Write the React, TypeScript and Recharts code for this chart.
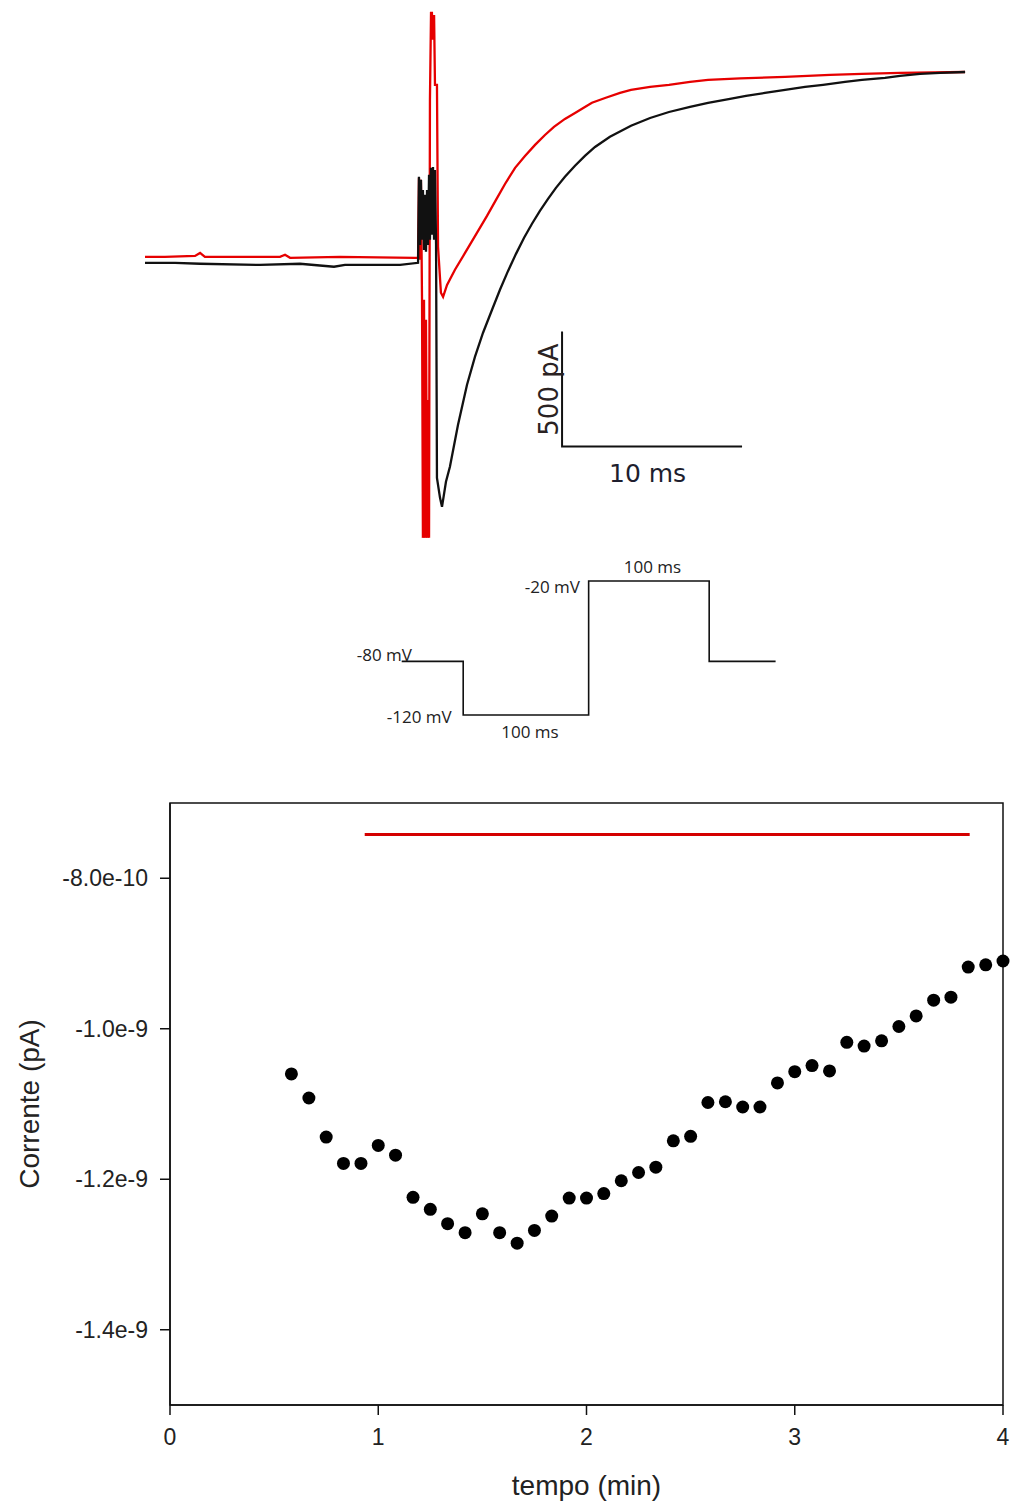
import React from 'react';
import {
  LineChart,
  Line,
  XAxis,
  YAxis,
  ReferenceDot,
  ComposedChart,
  Scatter,
  ReferenceLine,
  ReferenceArea,
} from 'recharts';

const FONT = "'Liberation Sans', Arial, sans-serif";

// current traces, [time (ms), current (pA)]
const controlTrace: [number, number][] = [
  [0, -13], [1.67, -13], [3.06, -17], [6.39, -22], [8.61, -17], [10.5, -30],
  [11.11, -22], [14.17, -22], [15.17, -13], [15.22, 361], [15.28, 65],
  [15.33, 348], [15.39, 87], [15.44, 304], [15.5, 43], [15.56, 283],
  [15.61, 35], [15.67, 304], [15.72, 65], [15.78, 370], [15.83, 87],
  [15.89, 400], [15.94, 109], [16.0, 404], [16.06, 87], [16.11, 391],
  [16.17, 65], [16.22, -948], [16.39, -1035], [16.5, -1074], [16.72, -965],
  [16.94, -900], [17.39, -717], [17.89, -543], [18.33, -422], [18.78, -317],
  [19.28, -217], [19.72, -130], [20.17, -48], [20.61, 26], [21.06, 96],
  [21.5, 157], [21.94, 213], [22.39, 265], [22.83, 313], [23.33, 361],
  [23.89, 409], [24.44, 452], [25.0, 491], [25.83, 535], [27.0, 583],
  [28.06, 617], [29.11, 643], [30.28, 665], [31.28, 683], [32.5, 700],
  [33.39, 713], [34.44, 726], [35.56, 739], [36.67, 752], [37.67, 761],
  [38.89, 774], [39.83, 783], [41.11, 791], [41.94, 800], [43.06, 809],
  [44.17, 813], [45.56, 817],
];

const drugTrace: [number, number][] = [
  [0, 13], [1.11, 13], [2.78, 17], [3.06, 30], [3.33, 13], [7.5, 13],
  [7.78, 22], [8.06, 9], [10.83, 13], [15.0, 9], [15.17, 9], [15.22, 357],
  [15.28, 0], [15.33, 348], [15.39, -174], [15.44, -1209], [15.5, -174],
  [15.56, -1209], [15.61, -261], [15.67, -1209], [15.72, -609], [15.78, -1209],
  [15.83, 696], [15.89, 1074], [15.94, 1074], [16.0, 957], [16.06, 1065],
  [16.11, 761], [16.22, 761], [16.28, 57], [16.44, -143], [16.56, -161],
  [16.78, -109], [17.22, -43], [17.78, 30], [18.44, 117], [19.0, 191],
  [19.5, 261], [20.0, 330], [20.56, 400], [21.11, 452], [21.67, 500],
  [22.22, 543], [22.72, 578], [23.33, 613], [23.89, 639], [24.44, 665],
  [24.83, 683], [25.56, 704], [26.39, 726], [27.0, 739], [28.06, 752],
  [29.11, 761], [30.28, 774], [31.28, 783], [33.06, 789], [35.56, 796],
  [38.06, 804], [39.83, 809], [41.94, 813], [45.56, 817],
];

// scale bar: 500 pA / 10 ms
const scaleBar: [number, number][] = [[23.17, -312], [23.17, -812], [33.17, -812]];

// voltage protocol
const protocolTime = [0, 50, 50, 152, 152, 250, 250, 304];
const protocolVoltage = [-80, -80, -120, -120, -20, -20, -80, -80];

// time course
const timeMin = [
  0.583, 0.667, 0.75, 0.833, 0.917, 1.0, 1.083, 1.167, 1.25, 1.333, 1.417,
  1.5, 1.583, 1.667, 1.75, 1.833, 1.917, 2.0, 2.083, 2.167, 2.25, 2.333,
  2.417, 2.5, 2.583, 2.667, 2.75, 2.833, 2.917, 3.0, 3.083, 3.167, 3.25,
  3.333, 3.417, 3.5, 3.583, 3.667, 3.75, 3.833, 3.917, 4.0,
];
const currentA = [
  -10.6e-10, -10.92e-10, -11.44e-10, -11.79e-10, -11.79e-10, -11.55e-10,
  -11.68e-10, -12.24e-10, -12.4e-10, -12.59e-10, -12.71e-10, -12.46e-10,
  -12.71e-10, -12.85e-10, -12.68e-10, -12.49e-10, -12.25e-10, -12.25e-10,
  -12.19e-10, -12.02e-10, -11.91e-10, -11.84e-10, -11.49e-10, -11.43e-10,
  -10.98e-10, -10.97e-10, -11.04e-10, -11.04e-10, -10.72e-10, -10.57e-10,
  -10.49e-10, -10.56e-10, -10.18e-10, -10.23e-10, -10.16e-10, -9.97e-10,
  -9.83e-10, -9.62e-10, -9.58e-10, -9.18e-10, -9.15e-10, -9.1e-10,
];
const xTicks = [0, 1, 2, 3, 4];
const yTicks = [-8e-10, -1e-9, -1.2e-9, -1.4e-9];
const yTickLabels = ['-8.0e-10', '-1.0e-9', '-1.2e-9', '-1.4e-9'];
const perfusionStart = 0.935;
const perfusionEnd = 3.84;
const perfusionLevel = -7.42e-10;

const toPts = (arr: [number, number][]) => arr.map(([t, v]) => ({ t, v }));
const controlPts = toPts(controlTrace);
const drugPts = toPts(drugTrace);
const barPts = toPts(scaleBar);
const protocolPts = protocolTime.map((t, i) => ({ t, v: protocolVoltage[i] }));
const coursePts = timeMin.map((x, i) => ({ x, y: currentA[i] }));

type NoteOpts = {
  anchor?: 'start' | 'middle' | 'end';
  size?: number;
  rotate?: number;
  family?: string;
  fill?: string;
};

function note(text: string, dx: number, dy: number, o: NoteOpts = {}) {
  return (props: any) => {
    const vb = props.viewBox || {};
    const x = (vb.x || 0) + (vb.width || 0) / 2 + dx;
    const y = (vb.y || 0) + (vb.height || 0) / 2 + dy;
    return (
      <text
        x={x}
        y={y}
        textAnchor={o.anchor || 'middle'}
        fontSize={o.size || 16}
        fontFamily={o.family || FONT}
        fill={o.fill || '#222'}
        transform={o.rotate ? `rotate(${o.rotate} ${x} ${y})` : undefined}
      >
        {text}
      </text>
    );
  };
}

const PROTO_FONT = "'Open Sans', 'Noto Sans', sans-serif";
const BAR_FONT = "'DejaVu Sans', sans-serif";

const dotShape = (p: any) => <circle cx={p.cx} cy={p.cy} r={6.5} fill="#000" />;

export default function App() {
  return (
    <div
      style={{
        position: 'absolute',
        left: 0,
        top: 0,
        width: 1012,
        height: 1504,
        background: '#fff',
        overflow: 'hidden',
      }}
    >
      {/* current traces */}
      <div style={{ position: 'absolute', left: 145, top: 0 }}>
        <LineChart width={828} height={545} margin={{ top: 0, right: 0, bottom: 0, left: 0 }}>
          <XAxis dataKey="t" type="number" domain={[0, 46]} hide />
          <YAxis type="number" domain={[-1240, 1130]} hide />
          <Line data={drugPts} dataKey="v" type="linear" stroke="#e60000" strokeWidth={2.3} dot={false} isAnimationActive={false} />
          <Line data={controlPts} dataKey="v" type="linear" stroke="#111" strokeWidth={2.3} dot={false} isAnimationActive={false} />
          <Line data={barPts} dataKey="v" type="linear" stroke="#111" strokeWidth={2} dot={false} isAnimationActive={false} />
          <ReferenceDot x={28.17} y={-812} r={0} stroke="none" fill="none"
            label={note('10 ms', -4.5, 35, { size: 25, family: BAR_FONT, fill: '#1e1e2e' })} />
          <ReferenceDot x={23.17} y={-562} r={0} stroke="none" fill="none"
            label={note('500 pA', -4, 0.5, { size: 26, family: BAR_FONT, rotate: -90, fill: '#2a2222' })} />
        </LineChart>
      </div>

      {/* voltage protocol */}
      <div style={{ position: 'absolute', left: 340, top: 550 }}>
        <LineChart width={460} height={200} margin={{ top: 17.6, right: 24.4, bottom: 21.6, left: 61.7 }}>
          <XAxis dataKey="t" type="number" domain={[0, 304]} hide />
          <YAxis type="number" domain={[-130, -10]} hide />
          <Line data={protocolPts} dataKey="v" type="linear" stroke="#111" strokeWidth={1.6} dot={false} isAnimationActive={false} />
          <ReferenceDot x={0} y={-80} r={0} stroke="none" fill="none"
            label={note('-80 mV', 10.3, 0, { anchor: 'end', size: 17, family: PROTO_FONT })} />
          <ReferenceDot x={50} y={-120} r={0} stroke="none" fill="none"
            label={note('-120 mV', -11.5, 8, { anchor: 'end', size: 17, family: PROTO_FONT })} />
          <ReferenceDot x={101} y={-120} r={0} stroke="none" fill="none"
            label={note('100 ms', 4, 23, { size: 17, family: PROTO_FONT })} />
          <ReferenceDot x={152} y={-20} r={0} stroke="none" fill="none"
            label={note('-20 mV', -8.7, 12, { anchor: 'end', size: 17, family: PROTO_FONT })} />
          <ReferenceDot x={201} y={-20} r={0} stroke="none" fill="none"
            label={note('100 ms', 3.5, -8, { size: 17, family: PROTO_FONT })} />
        </LineChart>
      </div>

      {/* time course */}
      <div style={{ position: 'absolute', left: 0, top: 780 }}>
        <ComposedChart width={1012} height={724} margin={{ top: 23, right: 9, bottom: 0, left: 20 }}>
          <XAxis
            dataKey="x"
            type="number"
            domain={[0, 4]}
            ticks={xTicks}
            interval={0}
            height={99}
            tickSize={10}
            tickMargin={14}
            axisLine={{ stroke: '#111', strokeWidth: 1.5 }}
            tickLine={{ stroke: '#111', strokeWidth: 1.5 }}
            tick={{ fontSize: 23, fill: '#222', fontFamily: FONT }}
            label={note('tempo (min)', 0, 40.5, { size: 28 })}
          />
          <YAxis
            dataKey="y"
            type="number"
            domain={[-1.5e-9, -7e-10]}
            ticks={yTicks}
            interval={0}
            width={150}
            tickSize={10}
            tickMargin={12}
            tickFormatter={(v: number) => yTickLabels[yTicks.indexOf(v)] ?? String(v)}
            axisLine={{ stroke: '#111', strokeWidth: 1.5 }}
            tickLine={{ stroke: '#111', strokeWidth: 1.5 }}
            tick={{ fontSize: 23, fill: '#222', fontFamily: FONT }}
            label={note('Corrente (pA)', -56, 0, { size: 28, rotate: -90 })}
          />
          <ReferenceArea x1={0} x2={4} y1={-1.5e-9} y2={-7e-10} fill="none" fillOpacity={0} stroke="#111" strokeWidth={1.5} />
          <ReferenceLine
            segment={[
              { x: perfusionStart, y: perfusionLevel },
              { x: perfusionEnd, y: perfusionLevel },
            ]}
            stroke="#d40000"
            strokeWidth={3}
          />
          <Scatter data={coursePts} fill="#000" shape={dotShape} isAnimationActive={false} />
        </ComposedChart>
      </div>
    </div>
  );
}
